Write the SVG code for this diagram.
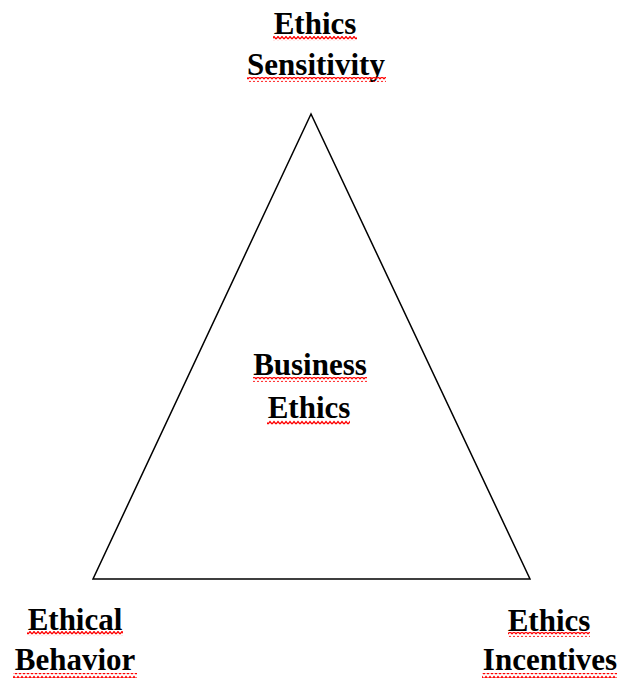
<svg xmlns="http://www.w3.org/2000/svg" width="618" height="682" viewBox="0 0 618 682">
<style>
.lbl{font-family:"Liberation Serif","Times New Roman",serif;font-weight:bold;font-size:31px;fill:#000;text-anchor:middle}
.wave{fill:url(#zig)}
</style>
<defs>
<pattern id="zig" patternUnits="userSpaceOnUse" width="4" height="5">
<path d="M0,4 L2,1.5 L4,4" fill="none" stroke="#ff0000" stroke-width="1.3"/>
</pattern>
</defs>
<rect width="618" height="682" fill="#fff"/>
<g id="connectors">
<polygon points="311,114 93,579 530,579" fill="none" stroke="#000" stroke-width="1.5" stroke-linejoin="miter"/>
</g>
<g id="node-top">
<text class="lbl" x="315" y="34">Ethics</text>
<text class="lbl" x="316" y="75">Sensitivity</text>
<rect class="wave" x="273" y="36" width="84" height="5"/>
<rect class="wave" x="247" y="77" width="139" height="5"/>
</g>
<g id="node-center">
<text class="lbl" x="310" y="375">Business</text>
<text class="lbl" x="309" y="418">Ethics</text>
<rect class="wave" x="253" y="377" width="114" height="5"/>
<rect class="wave" x="267" y="420" width="83" height="5"/>
</g>
<g id="node-left">
<text class="lbl" x="75" y="630">Ethical</text>
<text class="lbl" x="75" y="670">Behavior</text>
<rect class="wave" x="27" y="631" width="96" height="5"/>
<rect class="wave" x="13" y="673" width="124" height="5"/>
</g>
<g id="node-right">
<text class="lbl" x="549" y="631">Ethics</text>
<text class="lbl" x="550" y="670">Incentives</text>
<rect class="wave" x="508" y="632" width="82" height="5"/>
<rect class="wave" x="482" y="673" width="135" height="5"/>
</g>
</svg>
